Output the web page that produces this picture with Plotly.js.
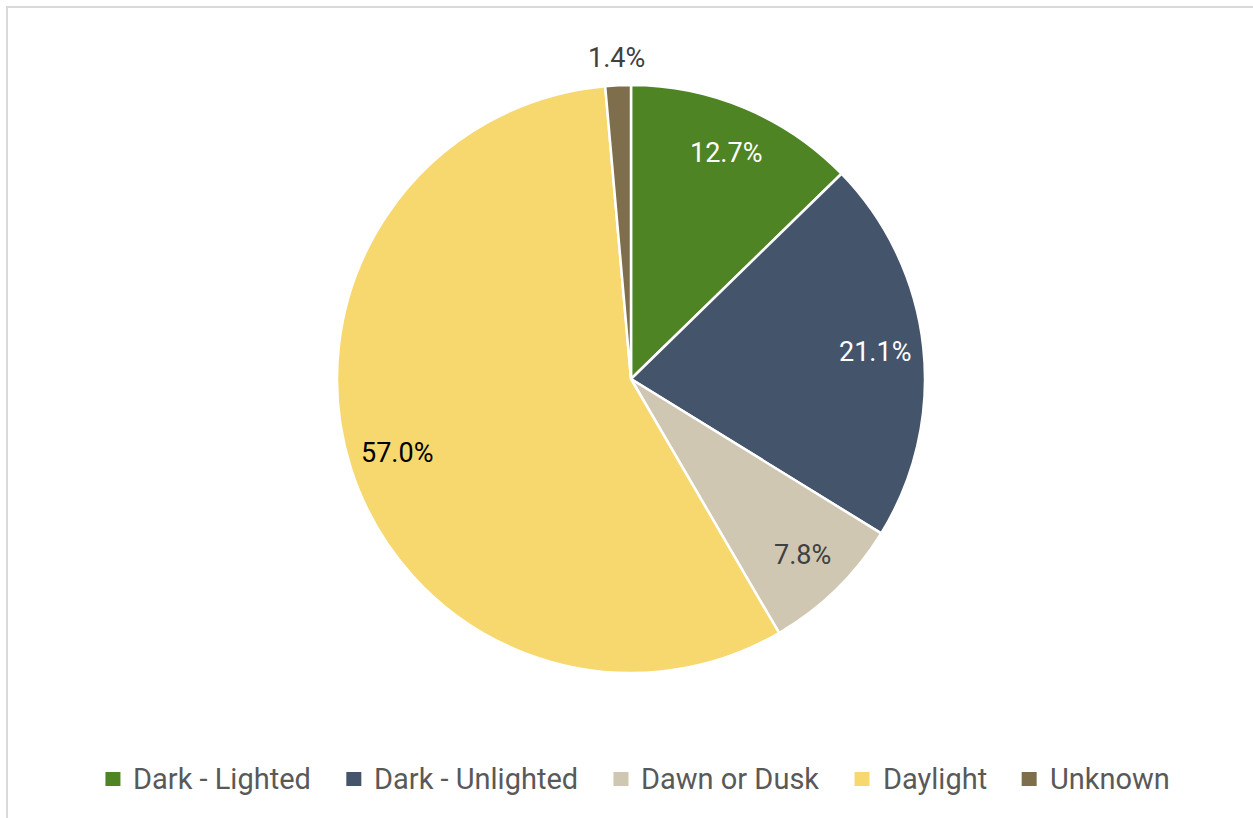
<!DOCTYPE html>
<html>
<head>
<meta charset="utf-8">
<script src="https://cdn.plot.ly/plotly-3.0.1.min.js"></script>
<style>
  html, body { margin: 0; padding: 0; background: #ffffff; }
  #wrap { position: relative; width: 1253px; height: 818px; overflow: hidden; }
  #frame { position: absolute; left: 6px; top: 6px; width: 1300px; height: 900px;
           border-left: 2px solid #d9d9d9; border-top: 2px solid #d9d9d9; box-sizing: border-box; }
  #chart { position: absolute; left: 0; top: 0; width: 1253px; height: 818px; }
</style>
</head>
<body>
<div id="wrap">
  <div id="frame"></div>
  <div id="chart"></div>
</div>
<script>
const categories = ["Dark - Lighted", "Dark - Unlighted", "Dawn or Dusk", "Daylight", "Unknown"];
const shares = [12.7, 21.1, 7.8, 57.0, 1.4];
const colors = ["#4e8424", "#44546a", "#d0c7b3", "#f6d86f", "#7f6e4c"];
const textColors = ["#ffffff", "#ffffff", "#404040", "#000000", "#404040"];
const labelInside = [true, true, true, true, false];

const W = 1253, H = 818;
const cx = 631, cy = 379, r = 294;
const FONT = "Roboto, 'Open Sans', sans-serif";

const trace = {
  type: "pie",
  labels: categories,
  values: shares,
  sort: false,
  direction: "clockwise",
  rotation: 0,
  marker: { colors: colors, line: { color: "#ffffff", width: 2.5 } },
  textinfo: "none",
  hoverinfo: "label+percent",
  showlegend: false,
  domain: {
    x: [(cx - r) / W, (cx + r) / W],
    y: [1 - (cy + r) / H, 1 - (cy - r) / H]
  }
};

// Data labels placed like the original (centred at ~0.835 r inside, ~1.09 r outside)
const total = shares.reduce((a, b) => a + b, 0);
const annotations = [];
let cum = 0;
shares.forEach((v, i) => {
  const mid = (cum + v / 2) / total * 2 * Math.PI;
  cum += v;
  const d = (labelInside[i] ? 0.835 : 1.092) * r;
  const px = cx + d * Math.sin(mid);
  const py = cy - d * Math.cos(mid);
  annotations.push({
    xref: "paper", yref: "paper",
    x: px / W, y: 1 - py / H,
    xanchor: "center", yanchor: "middle",
    showarrow: false,
    text: v.toFixed(1) + "%",
    font: { family: FONT, size: 27, color: textColors[i] }
  });
});

// Legend drawn as text + square keys, laid out from measured text widths
const legendFontSize = 29;
const canvas = document.createElement("canvas");
const ctx = canvas.getContext("2d");
ctx.font = legendFontSize + "px Roboto";
const keySize = 15, keyGap = 11, itemGap = 37;
const widths = categories.map(c => ctx.measureText(c).width);
const totalW = widths.reduce((a, w) => a + keySize + keyGap + w, 0) + itemGap * (categories.length - 1);
const legendCenterX = 636.5, legendY = 779;
let lx = legendCenterX - totalW / 2;
const shapes = [];
categories.forEach((c, i) => {
  shapes.push({
    type: "rect", xref: "paper", yref: "paper",
    x0: lx / W, x1: (lx + keySize) / W,
    y0: 1 - (legendY + 7) / H, y1: 1 - (legendY - 7) / H,
    fillcolor: colors[i], line: { width: 0 }
  });
  annotations.push({
    xref: "paper", yref: "paper",
    x: (lx + keySize + keyGap) / W, y: 1 - legendY / H,
    xanchor: "left", yanchor: "middle",
    showarrow: false,
    text: c,
    font: { family: FONT, size: legendFontSize, color: "#595959" }
  });
  lx += keySize + keyGap + widths[i] + itemGap;
});

const layout = {
  width: W,
  height: H,
  margin: { l: 0, r: 0, t: 0, b: 0 },
  paper_bgcolor: "rgba(0,0,0,0)",
  plot_bgcolor: "rgba(0,0,0,0)",
  font: { family: FONT, color: "#595959" },
  showlegend: false,
  annotations: annotations,
  shapes: shapes
};

Plotly.newPlot("chart", [trace], layout, { displayModeBar: false, staticPlot: true });
</script>
</body>
</html>
